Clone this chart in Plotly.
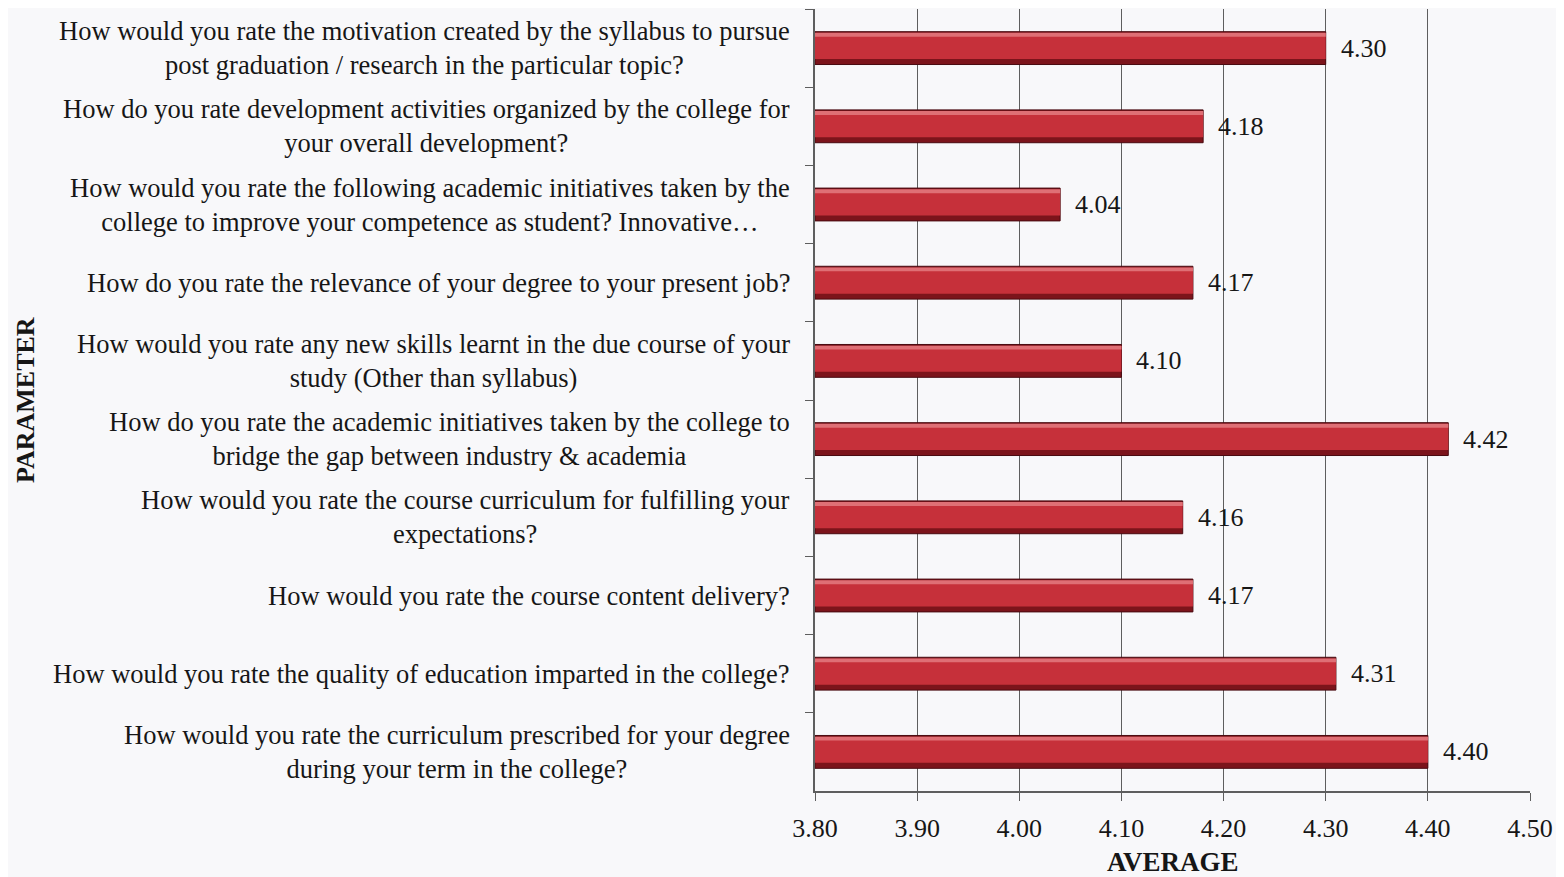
import plotly.graph_objects as go

questions = [
    "How would you rate the motivation created by the syllabus to pursue<br>post graduation / research in the particular topic?",
    "How do you rate development activities organized by the college for<br>your overall development?",
    "How would you rate the following academic initiatives taken by the<br>college to improve your competence as student? Innovative…",
    "How do you rate the relevance of your degree to your present job?",
    "How would you rate any new skills learnt in the due course of your<br>study (Other than syllabus)",
    "How do you rate the academic initiatives taken by the college to<br>bridge the gap between industry &amp; academia",
    "How would you rate the course curriculum for fulfilling your<br>expectations?",
    "How would you rate the course content delivery?",
    "How would you rate the quality of education imparted in the college?",
    "How would you rate the curriculum prescribed for your degree<br>during your term in the college?",
]
averages = [4.30, 4.18, 4.04, 4.17, 4.10, 4.42, 4.16, 4.17, 4.31, 4.40]
x_ticks = [3.80, 3.90, 4.00, 4.10, 4.20, 4.30, 4.40, 4.50]

FONT = "Liberation Serif, Times New Roman, serif"
TXT = "#161616"
BG = "#f8f8fa"
base = 3.80
lengths = [v - base for v in averages]

fig = go.Figure()
# dark shadow of the cylinder-like bar
fig.add_trace(go.Bar(
    y=questions, x=lengths, base=base, orientation="h",
    width=0.42, marker=dict(color="#7c141b", line=dict(color="#4a0a10", width=1)),
    showlegend=False, hoverinfo="skip",
))
# main body
fig.add_trace(go.Bar(
    y=questions, x=lengths, base=base, orientation="h",
    width=0.33, offset=-0.19, marker=dict(color="#c6303a", line=dict(width=0)),
    showlegend=False, hoverinfo="skip",
))
# top highlight
fig.add_trace(go.Bar(
    y=questions, x=lengths, base=base, orientation="h",
    width=0.05, offset=-0.195, marker=dict(color="#df6f75", line=dict(width=0)),
    showlegend=False, hoverinfo="skip",
))

annotations = []
for q, v in zip(questions, averages):
    annotations.append(dict(
        xref="paper", yref="y", x=0, y=q, xshift=-23, xanchor="right",
        yanchor="middle", align="center", text=q, showarrow=False,
        font=dict(family=FONT, size=26.5, color=TXT),
    ))
    annotations.append(dict(
        xref="x", yref="y", x=v, y=q, xshift=13, xanchor="left",
        yanchor="middle", text=f"{v:.2f}", showarrow=False,
        font=dict(family=FONT, size=26, color=TXT),
    ))
annotations.append(dict(
    xref="paper", yref="paper", x=0.5, y=0, yshift=-71, xanchor="center",
    yanchor="middle", text="<b>AVERAGE</b>", showarrow=False,
    font=dict(family=FONT, size=27, color=TXT),
))
annotations.append(dict(
    xref="paper", yref="paper", x=0, y=0.5, xshift=-790, xanchor="center",
    yanchor="middle", text="<b>PARAMETER</b>", textangle=-90, showarrow=False,
    font=dict(family=FONT, size=26, color=TXT),
))

fig.update_layout(
    width=1556, height=869,
    margin=dict(l=807, r=34, t=1, b=86),
    paper_bgcolor=BG, plot_bgcolor=BG,
    barmode="overlay",
    font=dict(family=FONT, size=26, color=TXT),
    annotations=annotations,
    xaxis=dict(
        range=[3.80, 4.50], tickvals=x_ticks,
        ticktext=[f"{t:.2f}" for t in x_ticks],
        showgrid=True, gridcolor="#5e5e5e", gridwidth=1,
        showline=True, linecolor="#5e5e5e", linewidth=1.5,
        ticks="outside", ticklen=8, tickcolor="#5e5e5e",
        ticklabelstandoff=5,
        tickfont=dict(family=FONT, size=26, color=TXT),
        zeroline=False,
    ),
    yaxis=dict(
        autorange="reversed", showticklabels=False,
        showline=True, linecolor="#5e5e5e", linewidth=1.5,
        ticks="outside", ticklen=8, tickcolor="#5e5e5e",
        tickson="boundaries", showgrid=False,
    ),
)

fig.write_html("out.html")
